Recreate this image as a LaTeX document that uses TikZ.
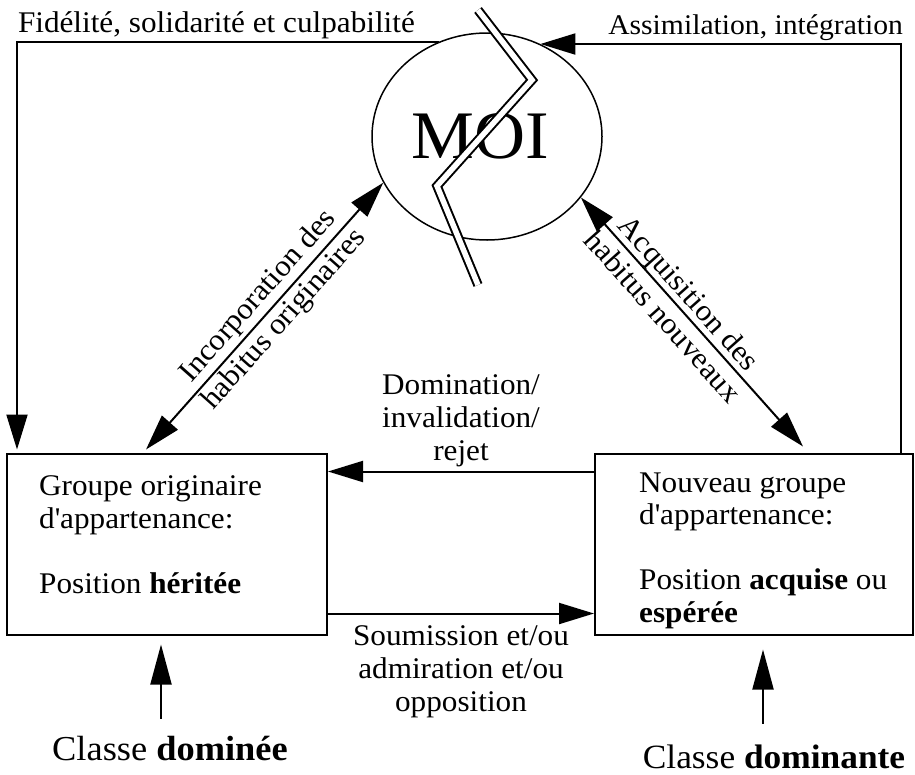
\documentclass[tikz,border=0pt]{standalone}
\usepackage{fontspec}
\setmainfont{Liberation Serif}[FakeStretch=1.04]
\usetikzlibrary{arrows.meta, positioning, shapes}

\begin{document}
\begin{tikzpicture}[
  x=1pt, y=-1pt,
  font=\fontsize{30}{33}\selectfont,
  every node/.style={align=center},
  block/.style={draw, line width=2pt, minimum width=320pt, minimum height=181pt, inner sep=0pt},
  boxtext/.style={align=left, inner sep=0pt, font=\fontsize{30}{32.5}\selectfont},
  classe/.style={inner sep=0pt, font=\fontsize{35}{38}\selectfont},
  arr/.style={line width=2pt, -{Triangle[length=35pt, width=21pt]}},
  uparr/.style={line width=2pt, -{Triangle[length=40pt, width=21pt]}},
  darr/.style={line width=2pt, {Triangle[length=36pt, width=21pt]}-{Triangle[length=36pt, width=21pt]}},
  crack/.style={double, line width=2pt, double distance=5.5pt},
]
\useasboundingbox (0,0) rectangle (915,774);

% the self
\node [draw, ellipse, line width=1.5pt, minimum width=230pt, minimum height=207pt, inner sep=0pt,
       font=\fontsize{68}{70}\selectfont] (moi) at (487,136.5) {MOI\hspace*{14pt}};

% the two groups
\node [block] (orig) at (167,544) {};
\node [boxtext] (origtxt) [below right=23pt and 33pt of orig.north west]
  {Groupe originaire\\d\textquotesingle appartenance:\\[32.5pt]Position \textbf{héritée}};

\node [block, minimum width=318pt] (new) at (754,544) {};
\node [boxtext] (newtxt) [below right=20pt and 45pt of new.north west]
  {Nouveau groupe\\d\textquotesingle appartenance:\\[32.5pt]Position \textbf{acquise} ou\\\textbf{espérée}};

% classes
\node [classe] (domine) [below=100pt of orig, xshift=3pt] {Classe \textbf{dominée}};
\node [classe, font=\fontsize{34}{38}\selectfont] (dominant) [below=109pt of new, xshift=20pt] {Classe \textbf{dominante}};

\draw[uparr] ([xshift=-9pt, yshift=17pt]domine.north) -- ([xshift=-6pt, yshift=-9pt]orig.south);
\draw[uparr] ([xshift=-11pt, yshift=21pt]dominant.north) -- ([xshift=9pt, yshift=-14pt]new.south);

% between the groups
\draw[arr] ([yshift=-19pt]new.north west) -- node[midway, above] (domin)
  {Domination/\\invalidation/\\rejet} ([yshift=-19pt]orig.north east);
\draw[arr] ([yshift=22pt]orig.south east) -- node[midway, below=8pt] (soumis)
  {Soumission et/ou\\admiration et/ou\\opposition} ([yshift=22pt]new.south west);

% habitus
\draw[darr] ([xshift=140pt, yshift=3pt]orig.north west) -- node[pos=0.53, sloped, font=\fontsize{30}{35}\selectfont] (incorp)
  {Incorporation des\\habitus originaires} (moi.204);
\draw[darr] (moi.327) -- node[pos=0.43, sloped, font=\fontsize{30}{35}\selectfont] (acquis)
  {Acquisition des\\habitus nouveaux} ([xshift=209pt, yshift=6pt]new.north west);

% loops over the top
\draw[arr] (moi.117) -| node[pos=0.5, anchor=south west, inner xsep=0pt, inner ysep=2pt] (fidel)
  {Fidélité, solidarité et culpabilité} ([xshift=11pt, yshift=3pt]orig.north west);
\draw[arr] ([xshift=-13pt]new.north east) |- node[pos=0.5, anchor=south east, inner xsep=-3pt, inner ysep=2pt,
  font=\fontsize{28.5}{33}\selectfont] (assim)
  {Assimilation, intégration} (moi.60);

% the split
\draw[crack] (478,10) -- (532,80) -- (437,186) -- (478,285);

\end{tikzpicture}
\end{document}
